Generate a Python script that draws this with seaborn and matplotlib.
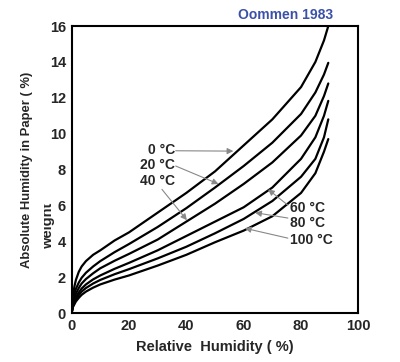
import seaborn as sns
import matplotlib.pyplot as plt
import matplotlib.patches as mpatches
import pandas as pd

# Relative humidity (%) sample points
rh = [0, 0.5, 1, 1.5, 2.5, 3.5, 5, 7.5, 10, 15, 20, 30, 40, 50, 60, 70, 80, 85, 88, 89.5]

# Absolute humidity in paper (%) for each temperature
temps = ['0 °C', '20 °C', '40 °C', '60 °C', '80 °C', '100 °C']
ah_0 = [0, 1.0, 1.5, 1.85, 2.3, 2.6, 2.9, 3.25, 3.5, 4.05, 4.5, 5.6, 6.7, 7.9, 9.35, 10.8, 12.6, 14.0, 15.2, 16.0]
ah_20 = [0, 0.7, 1.1, 1.35, 1.7, 1.97, 2.25, 2.6, 2.9, 3.4, 3.85, 4.8, 5.85, 7.0, 8.2, 9.5, 11.1, 12.3, 13.3, 13.95]
ah_40 = [0, 0.55, 0.85, 1.08, 1.4, 1.65, 1.9, 2.22, 2.5, 2.92, 3.3, 4.1, 5.1, 6.1, 7.2, 8.4, 9.9, 11.0, 12.1, 12.8]
ah_60 = [0, 0.45, 0.7, 0.88, 1.15, 1.37, 1.6, 1.88, 2.1, 2.47, 2.8, 3.5, 4.3, 5.1, 5.9, 7.0, 8.6, 9.8, 11.0, 11.83]
ah_80 = [0, 0.4, 0.6, 0.76, 1.0, 1.2, 1.4, 1.65, 1.85, 2.17, 2.45, 3.05, 3.7, 4.45, 5.25, 6.25, 7.6, 8.6, 9.8, 10.8]
ah_100 = [0, 0.35, 0.5, 0.65, 0.85, 1.02, 1.2, 1.42, 1.6, 1.87, 2.1, 2.65, 3.25, 3.95, 4.6, 5.4, 6.7, 7.8, 9.0, 9.7]
curves = [ah_0, ah_20, ah_40, ah_60, ah_80, ah_100]

# Label text positions and arrow ends (data coords)
label_pos = [(36, 9.08), (36, 8.25), (36, 7.36), (76.1, 5.85), (76.1, 5.02), (76.1, 4.07)]
arrow_from = [(36.3, 9.05), (36.3, 8.2), (31.5, 6.9), (75.4, 6.02), (75.4, 5.3), (75.4, 4.18)]
arrow_to = [(56.4, 9.03), (51.2, 7.2), (40.2, 5.18), (68.5, 6.9), (64.0, 5.6), (60.4, 4.73)]

rows = []
for t, ys in zip(temps, curves):
    for x, y in zip(rh, ys):
        rows.append({'RH': x, 'AH': y, 'Temp': t})
df = pd.DataFrame(rows)

sns.set_style("white")
plt.rcParams['font.family'] = ['Liberation Sans', 'DejaVu Sans']
plt.rcParams['font.weight'] = 'bold'

fig = plt.figure(figsize=(4.0, 3.62), dpi=100)
ax = fig.add_axes([0.179, 0.135, 0.717, 0.793])

sns.lineplot(data=df, x='RH', y='AH', hue='Temp', palette=['black'] * 6,
             linewidth=1.6, legend=False, ax=ax, sort=False)

ax.set_xlim(0, 100)
ax.set_ylim(0, 16)
ax.set_xticks(range(0, 101, 20))
ax.set_yticks(range(0, 17, 2))
ax.tick_params(direction='in', length=8, width=1.4, labelsize=10.5, pad=4)
for lab in ax.get_xticklabels() + ax.get_yticklabels():
    lab.set_fontweight('bold')
for s in ax.spines.values():
    s.set_linewidth(1.5)
    s.set_color('black')

ax.set_xlabel('Relative  Humidity ( %)', fontsize=10.5, fontweight='bold', labelpad=5)
ax.set_ylabel('Absolute Humidity in Paper ( %)', fontsize=9.4, fontweight='bold', labelpad=12)

for i, t in enumerate(temps):
    ha = 'right' if i < 3 else 'left'
    ax.text(label_pos[i][0], label_pos[i][1], t, ha=ha, va='center',
            fontsize=10, fontweight='bold')
    ax.annotate('', xy=arrow_to[i], xytext=arrow_from[i],
                arrowprops=dict(arrowstyle='-|>', color='#888888', lw=0.8,
                                mutation_scale=9, shrinkA=0, shrinkB=0))

fig.text(0.715, 0.959, 'Oommen 1983', ha='center', va='center',
         fontsize=10, fontweight='bold', color='#3b51a8')

# stray, partly clipped "weight" label in the source image
fig.text(0.12, 0.375, 'weight', rotation=90, ha='center', va='center',
         fontsize=10.5, fontweight='bold')
fig.patches.append(mpatches.Rectangle((0.097, 0.30), 0.014, 0.16,
                                      transform=fig.transFigure,
                                      facecolor='white', edgecolor='none', zorder=5))

fig.savefig('out.png', dpi=100, facecolor='white')
